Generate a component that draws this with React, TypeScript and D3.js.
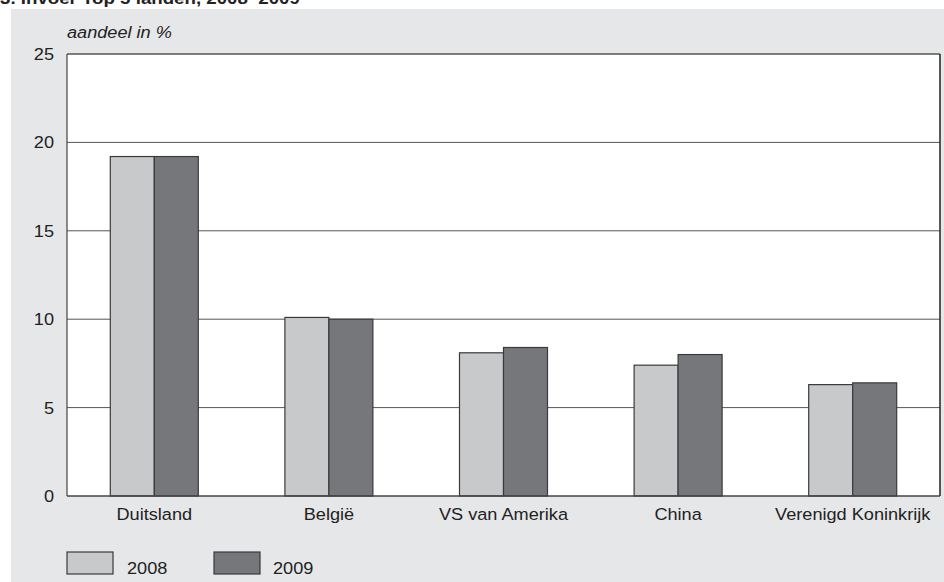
import React from "react";
import * as d3 from "d3";

const categories = ["Duitsland", "België", "VS van Amerika", "China", "Verenigd Koninkrijk"];
const series2008 = [19.2, 10.1, 8.1, 7.4, 6.3];
const series2009 = [19.2, 10.0, 8.4, 8.0, 6.4];
const seriesNames = ["2008", "2009"];
const yTicks = [0, 5, 10, 15, 20, 25];
const title = "3. Invoer Top 5 landen, 2008–2009";
const yLabel = "aandeel in %";

const W = 944, H = 582;
const left = 67, right = 940, top = 54, bottom = 496;
const colors = ["#c8c9cb", "#76777b"];
const font = "'Liberation Sans', Arial, Helvetica, sans-serif";
const SX = 1.1;

function T(props: { x: number; y: number; size: number; anchor?: string; italic?: boolean; bold?: boolean; children: React.ReactNode }) {
  return (
    <text transform={`translate(${props.x},${props.y}) scale(${SX},1)`} fontSize={props.size}
      textAnchor={props.anchor || "start"} fontStyle={props.italic ? "italic" : "normal"}
      fontWeight={props.bold ? "bold" : "normal"} fill="#222">{props.children}</text>
  );
}

export default function App() {
  const x = d3.scaleBand<string>().domain(categories).range([left, right]).paddingInner(0.496).paddingOuter(0.248);
  const x1 = d3.scaleBand<string>().domain(seriesNames).range([0, x.bandwidth()]);
  const y = d3.scaleLinear().domain([0, 25]).range([bottom, top]);
  const data = [series2008, series2009];
  return (
    <svg width={W} height={H} style={{ position: "absolute", left: 0, top: 0, display: "block" }} fontFamily={font}>
      <rect x={0} y={0} width={W} height={H} fill="#ffffff" />
      <rect x={11} y={9} width={W - 11} height={H - 9} fill="#e6e7e8" />
      <T x={0} y={3.5} size={17} bold>{title}</T>
      <rect x={left} y={top} width={right - left} height={bottom - top} fill="#ffffff" />
      {yTicks.map((t) => (
        <g key={t}>
          {t > 0 && t < 25 && (
            <line x1={left} x2={right} y1={y(t)} y2={y(t)} stroke="#555" strokeWidth={1} />
          )}
          <T x={54} y={y(t) + 6} size={16.5} anchor="end">{t}</T>
        </g>
      ))}
      {categories.map((c, i) => (
        <g key={c}>
          {seriesNames.map((s, j) => (
            <rect key={s} x={(x(c) as number) + (x1(s) as number)} y={y(data[j][i])}
              width={x1.bandwidth()} height={bottom - y(data[j][i])}
              fill={colors[j]} stroke="#3a3a3c" strokeWidth={1.2} />
          ))}
          <T x={(x(c) as number) + x.bandwidth() / 2} y={519.5} size={16.5} anchor="middle">{c}</T>
        </g>
      ))}
      <line x1={left} x2={right} y1={top} y2={top} stroke="#555" strokeWidth={1.5} />
      <line x1={right} x2={right} y1={top} y2={bottom} stroke="#222" strokeWidth={1.5} />
      <line x1={left} x2={left} y1={top} y2={bottom} stroke="#444" strokeWidth={1.2} />
      <line x1={left} x2={right} y1={bottom} y2={bottom} stroke="#444" strokeWidth={1.5} />
      <T x={67} y={38} size={16.5} italic>{yLabel}</T>
      {seriesNames.map((s, j) => (
        <g key={s}>
          <rect x={67 + j * 147} y={552} width={46} height={22} fill={colors[j]} stroke="#3a3a3c" strokeWidth={1.2} />
          <T x={127 + j * 146} y={574} size={16.5}>{s}</T>
        </g>
      ))}
    </svg>
  );
}
